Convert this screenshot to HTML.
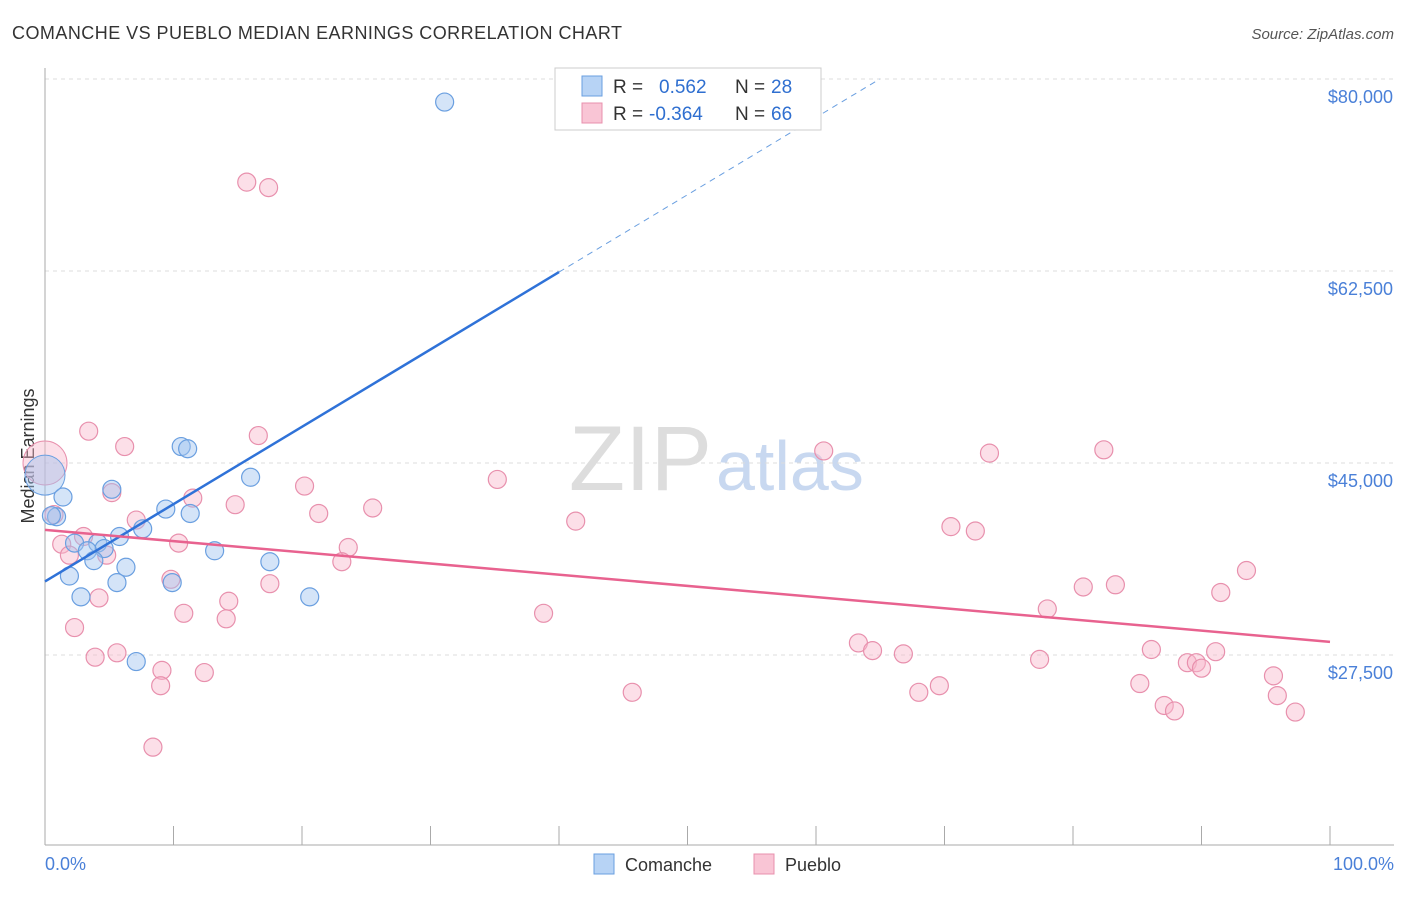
<!DOCTYPE html>
<html><head><meta charset="utf-8"><style>
body{margin:0;background:#fff;font-family:"Liberation Sans",sans-serif;}
svg text{font-family:"Liberation Sans",sans-serif;}
</style></head><body>
<svg id="c" width="1406" height="892">
<text x="12" y="39" font-size="18" fill="#333" textLength="610">COMANCHE VS PUEBLO MEDIAN EARNINGS CORRELATION CHART</text>
<text x="1394" y="39" font-size="15" fill="#555" font-style="italic" text-anchor="end">Source: ZipAtlas.com</text>
<text x="712" y="490" font-size="92" fill="#ddd" font-family="Liberation Serif" text-anchor="end">ZIP</text>
<text x="716" y="490" font-size="70" fill="#c8d8f0">atlas</text>
<text transform="translate(34,456) rotate(-90)" font-size="18" fill="#333" text-anchor="middle">Median Earnings</text>
<g id="grid"></g><g id="marks"></g>
<rect x="555" y="68" width="266" height="62" fill="#fff" stroke="#ccc"/>
<rect x="582" y="76" width="20" height="20" fill="#b7d3f5" stroke="#6a9fe0"/>
<rect x="582" y="103" width="20" height="20" fill="#f9c5d5" stroke="#e890ad"/>
<text x="613" y="93" font-size="19" fill="#333">R = <tspan fill="#2f6fd0" x="659">0.562</tspan><tspan fill="#333" x="735">N = </tspan><tspan fill="#2f6fd0" x="771">28</tspan></text>
<text x="613" y="120" font-size="19" fill="#333">R = <tspan fill="#2f6fd0" x="649">-0.364</tspan><tspan fill="#333" x="735">N = </tspan><tspan fill="#2f6fd0" x="771">66</tspan></text>
<text x="45" y="870" font-size="18" fill="#4a80d8">0.0%</text>
<text x="1394" y="870" font-size="18" fill="#4a80d8" text-anchor="end">100.0%</text>
<rect x="594" y="854" width="20" height="20" fill="#b7d3f5" stroke="#6a9fe0"/>
<text x="625" y="871" font-size="18" fill="#333">Comanche</text>
<rect x="754" y="854" width="20" height="20" fill="#f9c5d5" stroke="#e890ad"/>
<text x="785" y="871" font-size="18" fill="#333">Pueblo</text>
</svg>
<script>
const yTicks=[27500,45000,62500,80000];
const yTickLabels=["$27,500","$45,000","$62,500","$80,000"];
const comancheX=[31.1,10.6,11.1,1.4,5.2,16.0,9.4,11.3,0.9,0.5,7.6,5.8,4.1,2.3,4.6,3.3,13.2,3.8,17.5,6.3,1.9,5.6,9.9,2.8,20.6,7.1];
const comancheY=[77.9,46.5,46.3,41.9,42.6,43.7,40.8,40.4,40.1,40.2,39.0,38.3,37.7,37.7,37.2,37.0,37.0,36.1,36.0,35.5,34.7,34.1,34.1,32.8,32.8,26.9];
const puebloX=[15.7,17.4,3.4,6.2,16.6,60.6,73.5,82.4,35.2,20.2,5.2,11.5,14.8,21.3,25.5,0.7,41.3,7.1,70.5,72.4,3.0,1.3,10.4,23.6,1.9,4.8,23.1,9.8,17.5,80.8,83.3,93.5,4.2,91.5,14.3,10.8,38.8,14.1,78.0,2.3,63.3,64.4,66.8,3.9,5.6,86.1,91.1,77.4,88.9,89.6,90.0,9.1,12.4,95.6,9.0,45.7,68.0,69.6,85.2,95.9,87.1,87.9,97.3,8.4];
const puebloY=[70.6,70.1,47.9,46.5,47.5,46.1,45.9,46.2,43.5,42.9,42.3,41.8,41.2,40.4,40.9,40.3,39.7,39.8,39.2,38.8,38.3,37.6,37.7,37.3,36.6,36.6,36.0,34.4,34.0,33.7,33.9,35.2,32.7,33.2,32.4,31.3,31.3,30.8,31.7,30.0,28.6,27.9,27.6,27.3,27.7,28.0,27.8,27.1,26.8,26.8,26.3,26.1,25.9,25.6,24.7,24.1,24.1,24.7,24.9,23.8,22.9,22.4,22.3,19.1];
const comancheTrend=[34.2,0.705];
const puebloTrend=[38.9,-0.102];
const NS="http://www.w3.org/2000/svg";
const xs=p=>45+p*12.85;
const ys=v=>79+(80-v)*192/17.5;
const g=document.getElementById('grid'),m=document.getElementById('marks');
function mk(tag,a,parent){const e=document.createElementNS(NS,tag);for(const k in a)e.setAttribute(k,a[k]);parent.appendChild(e);return e;}
yTicks.forEach((t,i)=>{
 const y=ys(t/1000);
 const l=mk('line',{x1:45,x2:1394,y1:y,y2:y,stroke:'#ddd','stroke-dasharray':'4,4'},g);
 
 
 const tx=mk('text',{x:1393,y:y+24,'font-size':18,fill:'#4a80d8','text-anchor':'end'},g);
 tx.textContent=yTickLabels[i];
 
 
});
let ax=mk('line',{x1:45,x2:45,y1:68,y2:845,stroke:'#aaa'},g);


ax=mk('line',{x1:45,x2:1394,y1:845,y2:845,stroke:'#aaa'},g);


for(let i=0;i<=10;i++){const x=xs(i*10);
 const t=mk('line',{x1:x,x2:x,y1:826,y2:845,stroke:'#aaa'},g);
 
 }
function dots(X,Y,fill,stroke,name){X.forEach((x,i)=>{
 const c=mk('circle',{cx:xs(x),cy:ys(Y[i]),r:9,fill:fill,stroke:stroke,'stroke-width':1.2},m);
 
 });}
dots(puebloX,puebloY,'rgba(248,185,205,0.45)','#e890ad','pueblo-point');
dots(comancheX,comancheY,'rgba(160,196,240,0.45)','#6a9fe0','comanche-point');
let b=mk('circle',{cx:xs(0),cy:ys(45),r:22,fill:'rgba(248,185,205,0.45)',stroke:'#e890ad'},m);


b=mk('circle',{cx:xs(0),cy:ys(43.9),r:20,fill:'rgba(160,196,240,0.45)',stroke:'#6a9fe0'},m);


const cy=x=>comancheTrend[0]+comancheTrend[1]*x;
let ln=mk('line',{x1:xs(0),y1:ys(cy(0)),x2:xs(40),y2:ys(cy(40)),stroke:'#2f72d8','stroke-width':2.5},m);


const xe=(80-comancheTrend[0])/comancheTrend[1];
ln=mk('line',{x1:xs(40),y1:ys(cy(40)),x2:xs(xe),y2:ys(80),stroke:'#6a9fe0','stroke-width':1,'stroke-dasharray':'6,5'},m);


const py=x=>puebloTrend[0]+puebloTrend[1]*x;
ln=mk('line',{x1:xs(0),y1:ys(py(0)),x2:xs(100),y2:ys(py(100)),stroke:'#e8628f','stroke-width':2.5},m);


</script>
</body></html>
